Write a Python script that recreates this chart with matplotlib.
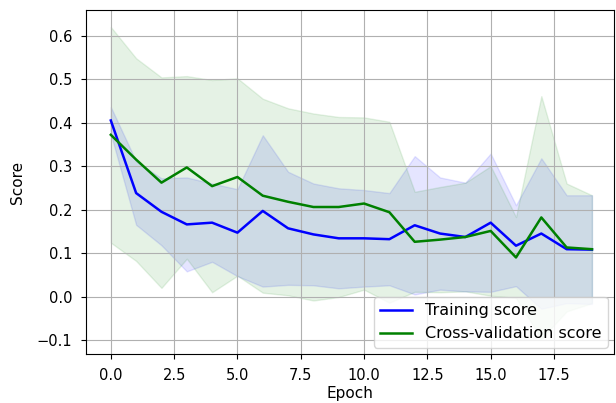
import matplotlib
matplotlib.use("Agg")
import matplotlib.pyplot as plt
import numpy as np

epochs = list(range(20))

train_mean = [0.405, 0.238, 0.195, 0.166, 0.170, 0.147, 0.197, 0.157, 0.143, 0.134,
              0.134, 0.132, 0.164, 0.145, 0.137, 0.170, 0.117, 0.145, 0.109, 0.108]
train_std = [0.031, 0.073, 0.077, 0.108, 0.090, 0.100, 0.174, 0.130, 0.117, 0.115,
             0.111, 0.106, 0.159, 0.129, 0.125, 0.159, 0.093, 0.173, 0.124, 0.125]

cv_mean = [0.372, 0.315, 0.262, 0.297, 0.254, 0.275, 0.232, 0.218, 0.206, 0.206,
           0.214, 0.194, 0.126, 0.131, 0.137, 0.151, 0.090, 0.182, 0.113, 0.109]
cv_std = [0.248, 0.233, 0.242, 0.210, 0.244, 0.227, 0.223, 0.215, 0.215, 0.207,
          0.198, 0.208, 0.115, 0.121, 0.125, 0.149, 0.093, 0.279, 0.147, 0.124]

plt.rcParams["font.size"] = 11.5
plt.rcParams["xtick.labelsize"] = 10.5
plt.rcParams["ytick.labelsize"] = 10.5
plt.rcParams["xtick.major.pad"] = 6.5
plt.rcParams["ytick.major.pad"] = 6.5

fig = plt.figure(figsize=(6.16, 4.03), dpi=100)
ax = fig.add_axes([86 / 616, 49 / 403, 528 / 616, 344 / 403])

tm, ts = np.array(train_mean), np.array(train_std)
cm, cs = np.array(cv_mean), np.array(cv_std)

ax.grid()
ax.fill_between(epochs, tm - ts, tm + ts, alpha=0.1, color="b")
ax.fill_between(epochs, cm - cs, cm + cs, alpha=0.1, color="g")
ax.plot(epochs, tm, color="b", lw=1.8, label="Training score")
ax.plot(epochs, cm, color="g", lw=1.8, label="Cross-validation score")

ax.set_xlim(-0.98, 19.87)
ax.set_ylim(-0.132, 0.659)
ax.set_xlabel("Epoch", fontsize=11, labelpad=2)
ax.set_ylabel("Score", fontsize=11, labelpad=8)
ax.legend(loc="lower right", borderaxespad=0.4)

fig.savefig("out.png", dpi=100)
